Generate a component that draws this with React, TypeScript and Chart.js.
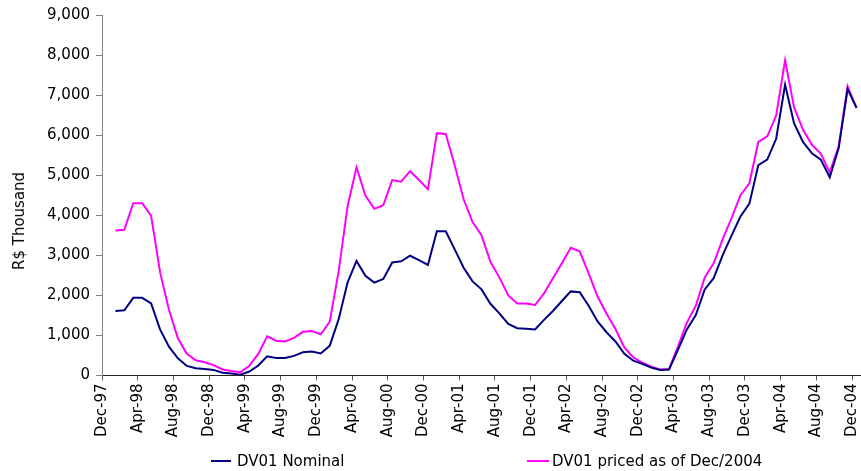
import React, { useEffect, useRef } from 'react';
import { Chart, registerables } from 'chart.js';

Chart.register(...registerables);

// Tick labels on the category axis (one every 4 months, Dec-97 .. Dec-04)
const tickLabels = [
  'Dec-97', 'Apr-98', 'Aug-98', 'Dec-98', 'Apr-99', 'Aug-99', 'Dec-99',
  'Apr-00', 'Aug-00', 'Dec-00', 'Apr-01', 'Aug-01', 'Dec-01', 'Apr-02',
  'Aug-02', 'Dec-02', 'Apr-03', 'Aug-03', 'Dec-03', 'Apr-04', 'Aug-04', 'Dec-04',
];

// Monthly series, Jan-98 .. Dec-04 (R$ thousand)
const nominal = [
  1610, 1630, 1940, 1940, 1800, 1150, 720, 430, 240, 180, 160, 140,
  70, 50, 20, 100, 250, 480, 440, 440, 490, 580, 600, 550,
  740, 1400, 2320, 2860, 2490, 2320, 2410, 2820, 2850, 2990, 2880, 2760,
  3600, 3600, 3150, 2690, 2350, 2150, 1790, 1550, 1290, 1180, 1170, 1150,
  1390, 1610, 1860, 2100, 2080, 1740, 1350, 1080, 850, 540, 370, 290,
  200, 140, 150, 640, 1150, 1510, 2150, 2430, 3000, 3490, 3970, 4290,
  5250, 5390, 5910, 7260, 6300, 5830, 5550, 5390, 4950, 5680, 7150, 6680,
];

const pricedDec2004 = [
  3620, 3640, 4300, 4300, 3990, 2580, 1640, 930, 540, 380, 330, 260,
  150, 110, 80, 240, 540, 980, 870, 850, 940, 1090, 1110, 1030,
  1340, 2600, 4220, 5200, 4490, 4160, 4250, 4880, 4840, 5100, 4880, 4650,
  6050, 6030, 5250, 4400, 3830, 3500, 2840, 2450, 2000, 1800, 1800, 1760,
  2050, 2430, 2800, 3190, 3100, 2550, 1970, 1550, 1160, 700, 450, 320,
  220, 150, 160, 720, 1320, 1740, 2450, 2800, 3400, 3930, 4500, 4800,
  5830, 5970, 6490, 7870, 6700, 6140, 5760, 5540, 5070, 5720, 7220, 6680,
];

const seriesNames = ['DV01 Nominal', 'DV01 priced as of Dec/2004'];
const seriesColors = ['#000080', '#FF00FF'];

// Month slots: slot 0 = Dec-97, series start at slot 1 (Jan-98)
const firstSlot = 1;
const slotCount = 85;
const monthsPerTick = 4;

const FONT = 'DejaVu Sans';

export default function App() {
  const ref = useRef<HTMLCanvasElement | null>(null);

  useEffect(() => {
    if (!ref.current) return;
    const toPts = (arr: number[]) => arr.map((y, i) => ({ x: i + firstSlot, y }));
    const chart = new Chart(ref.current, {
      type: 'line',
      data: {
        datasets: [nominal, pricedDec2004].map((arr, i) => ({
          label: seriesNames[i],
          data: toPts(arr),
          borderColor: seriesColors[i],
          backgroundColor: seriesColors[i],
          borderWidth: 2,
          pointRadius: 0,
          tension: 0,
          fill: false,
        })),
      },
      options: {
        responsive: false,
        animation: false,
        layout: { padding: { top: 15, right: 0, bottom: 0, left: 0 } },
        plugins: { legend: { display: false }, tooltip: { enabled: false } },
        scales: {
          x: {
            type: 'linear',
            min: -0.5,
            max: slotCount - 0.5,
            afterBuildTicks: (s: any) => {
              s.ticks = tickLabels.map((_, k) => ({ value: -0.5 + monthsPerTick * k }));
            },
            afterFit: (s: any) => {
              s.height = 95.5;
              s.paddingRight = 0;
              s.paddingLeft = 0;
            },
            ticks: {
              autoSkip: false,
              minRotation: 90,
              maxRotation: 90,
              padding: 3,
              color: '#000',
              font: { family: FONT, size: 15 },
              callback: (v: any) => tickLabels[Math.round((Number(v) + 0.5) / monthsPerTick)] ?? '',
            },
            grid: { display: true, drawOnChartArea: false, drawTicks: true, tickLength: 5, tickColor: '#555' },
            border: { display: true, color: '#222' },
          },
          y: {
            min: 0,
            max: 9000,
            afterFit: (s: any) => {
              s.width = 102;
            },
            ticks: {
              stepSize: 1000,
              padding: 6,
              color: '#000',
              font: { family: FONT, size: 15 },
              callback: (v: any) => Number(v).toLocaleString('en-US'),
            },
            grid: { display: true, drawOnChartArea: false, drawTicks: true, tickLength: 6, tickColor: '#808080' },
            border: { display: true, color: '#808080' },
          },
        },
      },
    } as any);
    return () => chart.destroy();
  }, []);

  const textStyle: React.CSSProperties = {
    fontFamily: FONT,
    fontSize: 15,
    color: '#000',
    whiteSpace: 'nowrap',
  };

  return (
    <div
      style={{
        position: 'fixed',
        left: 0,
        top: 0,
        width: 861,
        height: 471,
        background: '#fff',
        overflow: 'hidden',
      }}
    >
      <canvas ref={ref} width={861} height={471} style={{ display: 'block', width: 861, height: 471 }} />
      <div
        style={{
          ...textStyle,
          position: 'absolute',
          left: 19,
          top: 221,
          transform: 'translate(-50%, -50%) rotate(-90deg)',
        }}
      >
        R$ Thousand
      </div>
      {[
        { left: 211, lineW: 20, gap: 6 },
        { left: 527, lineW: 22, gap: 3 },
      ].map((it, i) => (
        <div
          key={i}
          style={{
            ...textStyle,
            position: 'absolute',
            left: it.left,
            top: 451,
            height: 20,
            display: 'flex',
            alignItems: 'center',
          }}
        >
          <span style={{ display: 'inline-block', width: it.lineW, height: 2, background: seriesColors[i], marginRight: it.gap }} />
          <span>{seriesNames[i]}</span>
        </div>
      ))}
    </div>
  );
}
